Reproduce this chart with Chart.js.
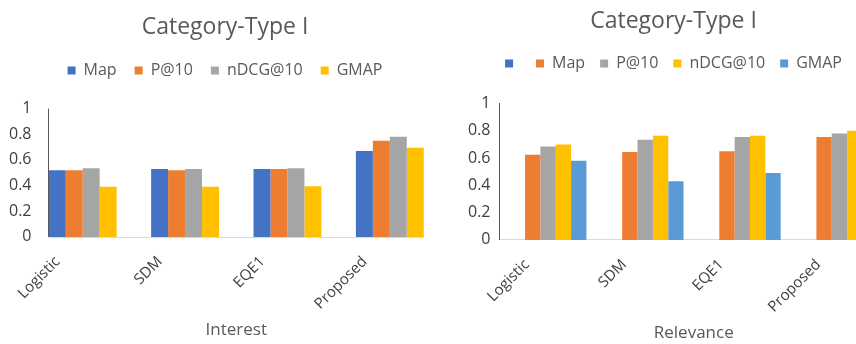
<!DOCTYPE html>
<html>
<head>
<meta charset="utf-8">
<script src="https://cdn.jsdelivr.net/npm/chart.js@4/dist/chart.umd.min.js"></script>
<style>
  html, body { margin: 0; padding: 0; background: #fff; overflow: hidden; }
  body { width: 856px; height: 344px; position: relative; }
  .quadro { position: absolute; top: 0; height: 344px; }
  #quadroInteresse { left: 0; width: 445px; }
  #quadroRelevancia { left: 440px; width: 450px; }
</style>
</head>
<body>
<div class="quadro" id="quadroInteresse"><canvas id="graficoInteresse"></canvas></div>
<div class="quadro" id="quadroRelevancia"><canvas id="graficoRelevancia"></canvas></div>
<script>
// Dados
const categorias = ['Logistic', 'SDM', 'EQE1', 'Proposed'];
const ticksY = [0, 0.2, 0.4, 0.6, 0.8, 1];

// Interest
const interesseMap = [0.52, 0.53, 0.53, 0.67];
const interesseP10 = [0.52, 0.52, 0.53, 0.75];
const interesseNdcg = [0.535, 0.53, 0.535, 0.78];
const interesseGmap = [0.39, 0.39, 0.395, 0.695];

// Relevance (primeira série sem nome e sem valores)
const relevanciaVazia = [null, null, null, null];
const relevanciaMap = [0.625, 0.645, 0.65, 0.755];
const relevanciaP10 = [0.685, 0.735, 0.755, 0.78];
const relevanciaNdcg = [0.70, 0.765, 0.765, 0.80];
const relevanciaGmap = [0.58, 0.43, 0.49, null]; // último cortado na imagem

const cores = {
    azul: '#4472C4',
    laranja: '#ED7D31',
    cinza: '#A5A5A5',
    amarelo: '#FFC000',
    azulClaro: '#5B9BD5'
};

Chart.defaults.font.family = "'Open Sans', sans-serif";
Chart.defaults.color = '#595959';
Chart.defaults.animation = false;

// Eixos desenhados a partir da primeira/última barra (gráfico da esquerda)
const eixoManual = {
    id: 'eixoManual',
    afterDraw(chart) {
        const ctx = chart.ctx;
        const y = chart.scales.y;
        const primeira = chart.getDatasetMeta(0).data[0];
        const ultMeta = chart.getDatasetMeta(chart.data.datasets.length - 1).data;
        const ultima = ultMeta[ultMeta.length - 1];
        const ini = primeira.x - primeira.width / 2;
        const fim = ultima.x + ultima.width / 2;
        ctx.save();
        ctx.lineWidth = 1;
        ctx.strokeStyle = '#d9d9d9';
        ctx.beginPath();
        ctx.moveTo(ini, Math.round(y.bottom) + 0.5);
        ctx.lineTo(fim, Math.round(y.bottom) + 0.5);
        ctx.stroke();
        ctx.strokeStyle = '#595959';
        ctx.beginPath();
        ctx.moveTo(Math.round(ini) - 0.5, y.top);
        ctx.lineTo(Math.round(ini) - 0.5, y.bottom);
        ctx.stroke();
        ctx.restore();
    }
};

// Espaço extra abaixo da legenda
const espacoLegenda = {
    id: 'espacoLegenda',
    beforeInit(chart, args, opts) {
        const fitOriginal = chart.legend.fit;
        chart.legend.fit = function () {
            fitOriginal.bind(chart.legend)();
            this.height += opts.extra || 0;
        };
    }
};

function criarDataset(label, data, cor) {
    return { label, data, backgroundColor: cor, borderWidth: 0 };
}

function opcoesBase(cfg) {
    return {
        responsive: true,
        maintainAspectRatio: false,
        layout: { padding: cfg.padding },
        plugins: {
            title: {
                display: true,
                text: 'Category-Type I',
                color: '#595959',
                font: { size: 23, weight: 'normal' },
                padding: { top: cfg.tituloTopo, bottom: cfg.tituloBase }
            },
            legend: {
                labels: {
                    boxWidth: 8,
                    boxHeight: 8,
                    padding: cfg.padLegenda,
                    color: '#595959',
                    font: { size: 16 }
                }
            },
            espacoLegenda: { extra: cfg.extraLegenda },
            tooltip: { enabled: false }
        },
        datasets: {
            bar: { categoryPercentage: cfg.catPct, barPercentage: 1 }
        },
        scales: {
            x: {
                grid: { display: false, drawTicks: false },
                border: { display: cfg.bordaNativa, color: '#d9d9d9' },
                ticks: {
                    autoSkip: false,
                    minRotation: 45,
                    maxRotation: 45,
                    color: '#404040',
                    font: { size: 15 },
                    padding: 16,
                    labelOffset: cfg.deslocRotulo
                },
                title: {
                    display: true,
                    text: cfg.tituloEixo,
                    color: '#595959',
                    font: { size: 17 },
                    padding: { top: cfg.tituloPad, bottom: 0 }
                }
            },
            y: {
                min: 0,
                max: 1,
                afterBuildTicks: (eixo) => { eixo.ticks = ticksY.map(v => ({ value: v })); },
                grid: { display: false, drawTicks: false },
                border: { display: cfg.bordaNativa, color: '#595959' },
                ticks: {
                    autoSkip: false,
                    color: '#404040',
                    font: { size: 16 },
                    padding: cfg.padTicksY,
                    callback: (v) => String(v)
                }
            }
        }
    };
}

// Gráfico Interest
new Chart(document.getElementById('graficoInteresse'), {
    type: 'bar',
    data: {
        labels: categorias,
        datasets: [
            criarDataset('Map', interesseMap, cores.azul),
            criarDataset('P@10', interesseP10, cores.laranja),
            criarDataset('nDCG@10', interesseNdcg, cores.cinza),
            criarDataset('GMAP', interesseGmap, cores.amarelo)
        ]
    },
    options: opcoesBase({
        tituloEixo: 'Interest',
        catPct: 0.663,
        bordaNativa: false,
        padding: { left: 9, right: 4, top: 0, bottom: 4 },
        tituloTopo: 14,
        tituloBase: 3,
        padLegenda: 18,
        extraLegenda: 20,
        tituloPad: -9.5,
        padTicksY: 0,
        deslocRotulo: -25
    }),
    plugins: [eixoManual, espacoLegenda]
});

// Gráfico Relevance
new Chart(document.getElementById('graficoRelevancia'), {
    type: 'bar',
    data: {
        labels: categorias,
        datasets: [
            criarDataset('', relevanciaVazia, cores.azul),
            criarDataset('Map', relevanciaMap, cores.laranja),
            criarDataset('P@10', relevanciaP10, cores.cinza),
            criarDataset('nDCG@10', relevanciaNdcg, cores.amarelo),
            criarDataset('GMAP', relevanciaGmap, cores.azulClaro)
        ]
    },
    options: opcoesBase({
        tituloEixo: 'Relevance',
        catPct: 0.79,
        bordaNativa: true,
        padding: { left: 19, right: 2, top: 0, bottom: 1 },
        tituloTopo: 8,
        tituloBase: 5,
        padLegenda: 15,
        extraLegenda: 22,
        tituloPad: -9.5,
        padTicksY: 9,
        deslocRotulo: -21
    }),
    plugins: [espacoLegenda]
});
</script>
</body>
</html>
